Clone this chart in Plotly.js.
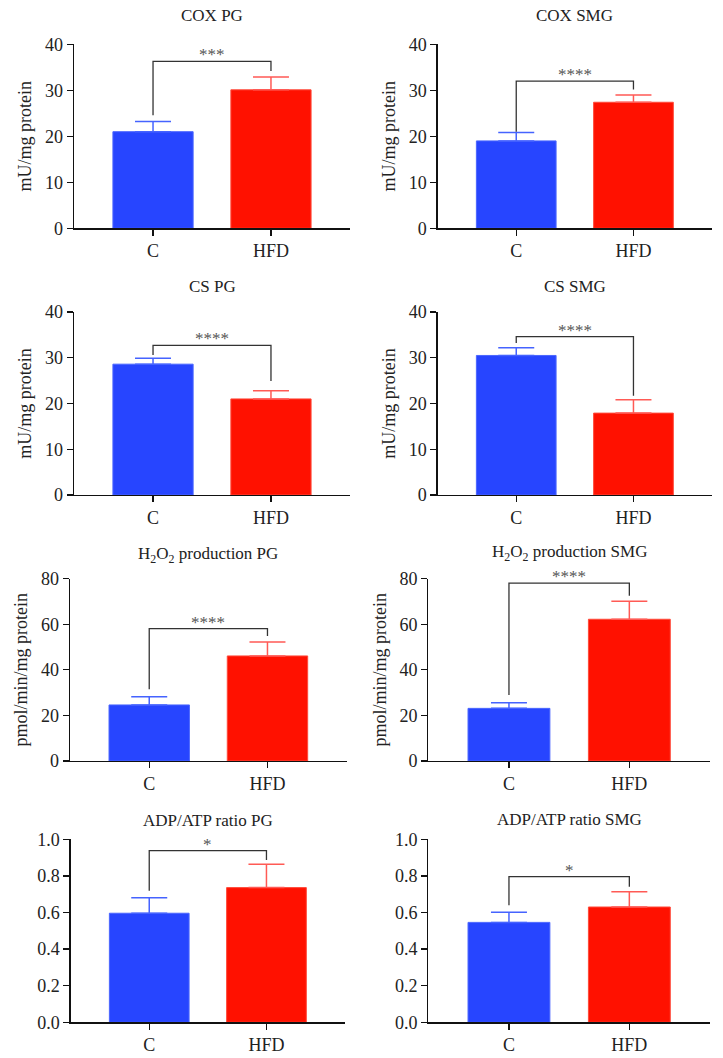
<!DOCTYPE html>
<html>
<head>
<meta charset="utf-8">
<script src="https://cdn.plot.ly/plotly-3.0.1.min.js"></script>
<style>html,body{margin:0;padding:0;background:#fff;}#chart{width:723px;height:1058px;}</style>
</head>
<body>
<div id="chart"></div>
<script>
// ---- Data ----
const categories = ['C', 'HFD'];
const panelTitles = ['COX PG', 'COX SMG', 'CS PG', 'CS SMG',
  'H<sub>2</sub>O<sub>2</sub> production PG', 'H<sub>2</sub>O<sub>2</sub> production SMG',
  'ADP/ATP ratio PG', 'ADP/ATP ratio SMG'];
const yTitles = ['mU/mg protein', 'mU/mg protein', 'mU/mg protein', 'mU/mg protein',
  'pmol/min/mg protein', 'pmol/min/mg protein', '', ''];

const coxPgMean = [21.0, 30.1];    const coxPgErr = [2.2, 2.8];
const coxSmgMean = [19.0, 27.4];   const coxSmgErr = [1.8, 1.6];
const csPgMean = [28.6, 21.0];     const csPgErr = [1.3, 1.8];
const csSmgMean = [30.5, 17.9];    const csSmgErr = [1.7, 2.9];
const h2o2PgMean = [24.6, 46.1];   const h2o2PgErr = [3.6, 6.1];
const h2o2SmgMean = [23.1, 62.2];  const h2o2SmgErr = [2.5, 7.9];
const adpPgMean = [0.596, 0.736];  const adpPgErr = [0.085, 0.127];
const adpSmgMean = [0.546, 0.630]; const adpSmgErr = [0.055, 0.084];

// significance brackets: [left drop end, bracket level, right drop end]
const coxPgBracket = [24.6, 36.3, 34.2];
const coxSmgBracket = [21.0, 32.0, 30.2];
const csPgBracket = [30.6, 32.7, 24.9];
const csSmgBracket = [33.2, 34.6, 21.7];
const h2o2PgBracket = [31.5, 58.1, 54.8];
const h2o2SmgBracket = [29.0, 78.1, 72.5];
const adpPgBracket = [0.719, 0.938, 0.887];
const adpSmgBracket = [0.639, 0.796, 0.741];
const significance = ['***', '****', '****', '****', '****', '****', '*', '*'];

const yMax = [40, 40, 40, 40, 80, 80, 1.0, 1.0];
const yStep = [10, 10, 10, 10, 20, 20, 0.2, 0.2];

// ---- Assembly ----
const means = [coxPgMean, coxSmgMean, csPgMean, csSmgMean, h2o2PgMean, h2o2SmgMean, adpPgMean, adpSmgMean];
const errs = [coxPgErr, coxSmgErr, csPgErr, csSmgErr, h2o2PgErr, h2o2SmgErr, adpPgErr, adpSmgErr];
const brackets = [coxPgBracket, coxSmgBracket, csPgBracket, csSmgBracket, h2o2PgBracket, h2o2SmgBracket, adpPgBracket, adpSmgBracket];

const W = 723, H = 1058;
// pixel geometry of each plot area: [left, right, top, bottom]
const boxes = [
  [74, 350, 44.3, 228.3], [437.7, 712, 44.3, 228.3],
  [74, 350, 312, 495], [437.7, 712, 312, 495],
  [70, 346.7, 578.7, 761], [428.3, 710, 578.7, 761],
  [70.7, 345, 839.3, 1022.3], [428.3, 710, 839.3, 1022.3]
];
const titleY = [15, 15, 286.7, 286.7, 555, 553.3, 820, 819.5];

const barColors = ['#2745ff', '#ff1100'];
const barEdge = ['#4a66ff', '#ff4a3a'];
const errColors = ['#4563ff', '#ff5a55'];
const FONT = 'Liberation Serif, Times New Roman, serif';

const data = [];
const layout = {
  width: W, height: H,
  margin: {l: 0, r: 0, t: 0, b: 0},
  paper_bgcolor: '#fff', plot_bgcolor: '#fff',
  showlegend: false, barmode: 'overlay',
  font: {family: FONT, size: 18, color: '#222'},
  annotations: []
};

for (let i = 0; i < 8; i++) {
  const n = i + 1;
  const xa = n === 1 ? 'x' : 'x' + n;
  const ya = n === 1 ? 'y' : 'y' + n;
  const b = boxes[i];
  for (let k = 0; k < 2; k++) {
    data.push({
      type: 'bar', x: [categories[k]], y: [means[i][k]],
      xaxis: xa, yaxis: ya, width: 0.68,
      marker: {color: barColors[k], line: {color: barEdge[k], width: 1}},
      error_y: {type: 'data', symmetric: false, array: [errs[i][k]], arrayminus: [0],
        color: errColors[k], thickness: 1.5, width: 18},
      hoverinfo: 'skip'
    });
  }
  const br = brackets[i];
  data.push({
    type: 'scatter', mode: 'lines', xaxis: xa, yaxis: ya,
    x: [categories[0], categories[0], categories[1], categories[1]],
    y: [br[0], br[1], br[1], br[2]],
    line: {color: '#333', width: 1.3}, cliponaxis: false, hoverinfo: 'skip'
  });
  const xKey = n === 1 ? 'xaxis' : 'xaxis' + n;
  const yKey = n === 1 ? 'yaxis' : 'yaxis' + n;
  layout[xKey] = {
    domain: [b[0] / W, b[1] / W], anchor: ya, type: 'category',
    range: [-0.67, 1.67], showline: true, linecolor: '#111', linewidth: 1.3,
    ticks: 'outside', ticklen: 6, tickwidth: 1.3, tickcolor: '#111',
    showgrid: false, zeroline: false, fixedrange: true,
    tickfont: {family: FONT, size: 18, color: '#222'}
  };
  const yAxis = {
    domain: [1 - b[3] / H, 1 - b[2] / H], anchor: xa,
    range: [0, yMax[i]], dtick: yStep[i], tick0: 0,
    tickformat: yMax[i] === 1 ? '.1f' : 'd',
    showline: true, linecolor: '#111', linewidth: 1.3,
    ticks: 'outside', ticklen: 6, tickwidth: 1.3, tickcolor: '#111',
    showgrid: false, zeroline: false, fixedrange: true,
    tickfont: {family: FONT, size: 18, color: '#222'}
  };
  if (yTitles[i]) {
    yAxis.title = {text: yTitles[i], font: {family: FONT, size: 18, color: '#222'}, standoff: 8};
  }
  layout[yKey] = yAxis;
  layout.annotations.push({
    text: panelTitles[i], xref: 'paper', yref: 'paper',
    x: (b[0] + b[1]) / 2 / W, y: 1 - titleY[i] / H,
    xanchor: 'center', yanchor: 'middle', showarrow: false,
    font: {family: FONT, size: 17, color: '#222'}
  });
  layout.annotations.push({
    text: significance[i], xref: xa, yref: ya, x: 0.5, y: br[1],
    xanchor: 'center', yanchor: 'bottom', yshift: -5, showarrow: false,
    font: {family: FONT, size: 17, color: '#555'}
  });
}

Plotly.newPlot('chart', data, layout, {displayModeBar: false, staticPlot: true});
</script>
</body>
</html>
